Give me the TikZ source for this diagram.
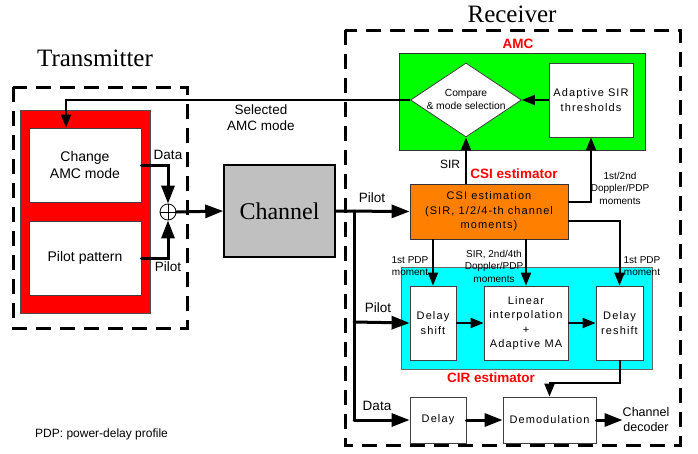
\documentclass[tikz,border=0pt]{standalone}
\usepackage{fontspec}
\setmainfont{Liberation Sans}
\newfontfamily\serifA{Liberation Serif}
\newfontfamily\wideA[LetterSpace=10]{Liberation Sans}
\usetikzlibrary{shapes.geometric,arrows.meta}
\definecolor{myorange}{HTML}{FF8000}
\definecolor{mygray}{HTML}{C0C0C0}
\definecolor{mygreen}{HTML}{00FF00}
\definecolor{mycyan}{HTML}{00FFFF}
\tikzset{
  x=1pt,y=-1pt,
  wbox/.style={draw=black!75,line width=0.8pt,fill=white,inner sep=0pt,align=center,font=\wideA\fontsize{11}{14.5}\selectfont},
  tbox/.style={draw=black!75,line width=0.8pt,fill=white,inner sep=0pt,align=center,font=\fontsize{14}{17}\selectfont},
  dashbox/.style={draw,line width=3pt,dash pattern=on 15pt off 9pt},
  thickarr/.style={line width=3pt,line cap=round,-{Triangle[length=18pt,width=13pt]}},
  thinarr/.style={line width=2pt,-{Triangle[length=13pt,width=10pt]}},
  thickln/.style={line width=3pt,line cap=round},
  lbl/.style={inner sep=0pt,align=center,font=\fontsize{13.5}{16}\selectfont},
  slbl/.style={inner sep=0pt,align=center,font=\fontsize{10}{12.5}\selectfont},
  rlbl/.style={inner sep=0pt,text=red,font=\bfseries\fontsize{13.5}{16}\selectfont},
  title/.style={inner sep=0pt,font=\serifA\fontsize{25}{29}\selectfont},
}
\begin{document}
\begin{tikzpicture}
\useasboundingbox (0,0) rectangle (698,453);
% titles
\node[title] (ttx) at (95,58) {Transmitter};
\node[title] (trx) at (512,14) {Receiver};
% dashed frames
\draw[dashbox] (13,87) rectangle (187,328);
\draw[dashbox] (345,30) rectangle (680,445);
% transmitter
\node[fill=red,draw=black!70,line width=0.8pt,minimum width=130,minimum height=203,inner sep=0pt] (redb) at (85,211.5) {};
\node[tbox,minimum width=112,minimum height=74] (cam) at (85,165) {Change\\AMC mode};
\node[tbox,minimum width=112,minimum height=74] (pp) at (85,258) {Pilot pattern};
\node[circle,draw,line width=0.8pt,fill=white,minimum size=16,inner sep=0pt] (sum) at (168,212) {};
\draw[line width=0.8pt] (sum.north) -- (sum.south) (sum.west) -- (sum.east);
\node[fill=mygray,draw=black,line width=1.5pt,minimum width=111,minimum height=92,inner sep=0pt,font=\serifA\fontsize{24}{28}\selectfont] (chan) at (279.5,211) {Channel};
\draw[thickarr] (cam.east) -| (sum.north);
\draw[thickarr] (pp.east) -| (sum.south);
\draw[thickarr] (sum.east) -- (chan.west);
\node[lbl] (ldata) at (168,155) {Data};
\node[lbl] (lpilot) at (168,267) {Pilot};
% AMC
\node[fill=mygreen,draw=black!80,line width=0.8pt,minimum width=246,minimum height=97,inner sep=0pt] (amc) at (522,101.5) {};
\node[rlbl] (lamc) at (518,44) {AMC};
\node[diamond,draw=black!75,line width=0.8pt,fill=white,minimum width=111,minimum height=74,inner sep=0pt] (cmp) at (466,100) {};
\node[slbl,font=\fontsize{10.3}{13}\selectfont] (cmpt) at (466,99) {Compare\\\& mode selection};
\node[wbox,minimum width=84,minimum height=74] (adapt) at (591,100) {Adaptive SIR\\thresholds};
\draw[thinarr] (adapt.west) -- (cmp.east);
% CSI
\node[fill=myorange,draw=black!80,line width=0.8pt,minimum width=158,minimum height=55,inner sep=0pt,align=center,font=\wideA\fontsize{11}{14.5}\selectfont] (csi) at (489,211.5) {CSI estimation\\(SIR, 1/2/4-th channel\\moments)};
\node[rlbl] (lcsi) at (514,174) {CSI estimator};
\node[lbl,font=\fontsize{12}{14}\selectfont] (lsir) at (450,164) {SIR};
\draw[thinarr] (cmp.south |- csi.north) -- (cmp.south);
\coordinate (c1) at (568,202);
\draw[thinarr] (c1) -| (adapt.south);
\node[slbl] (lmom1) at (620,188) {1st/2nd\\Doppler/PDP\\moments};
% feedback
\coordinate (fb) at (66,100);
\draw[line width=2pt,-{Triangle[length=13pt,width=10pt]}] (cmp.west) -- (fb) -- (fb |- cam.north);
\node[lbl] (lsel) at (261,118) {Selected\\AMC mode};
% CIR estimator
\node[fill=mycyan,draw=black!60,line width=0.8pt,minimum width=251,minimum height=102,inner sep=0pt] (cir) at (526.5,318) {};
\node[wbox,minimum width=46,minimum height=74] (dsh) at (433,323) {Delay\\shift};
\node[wbox,minimum width=84,minimum height=74] (lin) at (526,323) {Linear\\interpolation\\+\\Adaptive MA};
\node[wbox,minimum width=47,minimum height=74] (rsh) at (619.5,323) {Delay\\reshift};
\node[rlbl] (lcir) at (491,378) {CIR estimator};
\draw[thinarr] (csi.south -| dsh.north) -- (dsh.north);
\draw[thinarr] (csi.south -| lin.north) -- (lin.north);
\coordinate (c2) at (568,221);
\draw[thinarr] (c2) -| (rsh.north);
\node[slbl] (lm2) at (410,266) {1st PDP\\moment};
\node[slbl] (lm3) at (494,266) {SIR, 2nd/4th\\Doppler/PDP\\moments};
\node[slbl] (lm4) at (642,266) {1st PDP\\moment};
\draw[thinarr] (dsh.east) -- (lin.west);
\draw[thinarr] (lin.east) -- (rsh.west);
% data path
\node[wbox,minimum width=56,minimum height=46] (dly) at (438,420) {Delay};
\node[wbox,minimum width=93,minimum height=46] (dem) at (549.5,420) {Demodulation};
\node[lbl,font=\fontsize{12.5}{15}\selectfont] (dec) at (646,420) {Channel\\decoder};
\draw[thinarr] (rsh.south) -- ++(0,23) -| (dem.north);
\draw[thickarr] (dly.east) -- (dem.west);
\draw[thickarr] (dem.east) -- (dec.west);
% pilot / data distribution
\coordinate (j1) at (354,211);
\coordinate (j2) at (354,322);
\coordinate (j3) at (354,420);
\draw[thickarr] (chan.east) -- (csi.west);
\draw[thickln] (j1) -- (j3);
\draw[thickarr] (j2) -- (dsh.west);
\draw[thickarr] (j3) -- (dly.west);
\node[lbl] (lp1) at (372,198) {Pilot};
\node[lbl] (lp2) at (378,308) {Pilot};
\node[lbl] (ld2) at (377,406) {Data};
% legend
\node[anchor=west,inner sep=0pt,font=\fontsize{12}{14}\selectfont] (leg) at (35,434) {PDP: power-delay profile};
\end{tikzpicture}
\end{document}
